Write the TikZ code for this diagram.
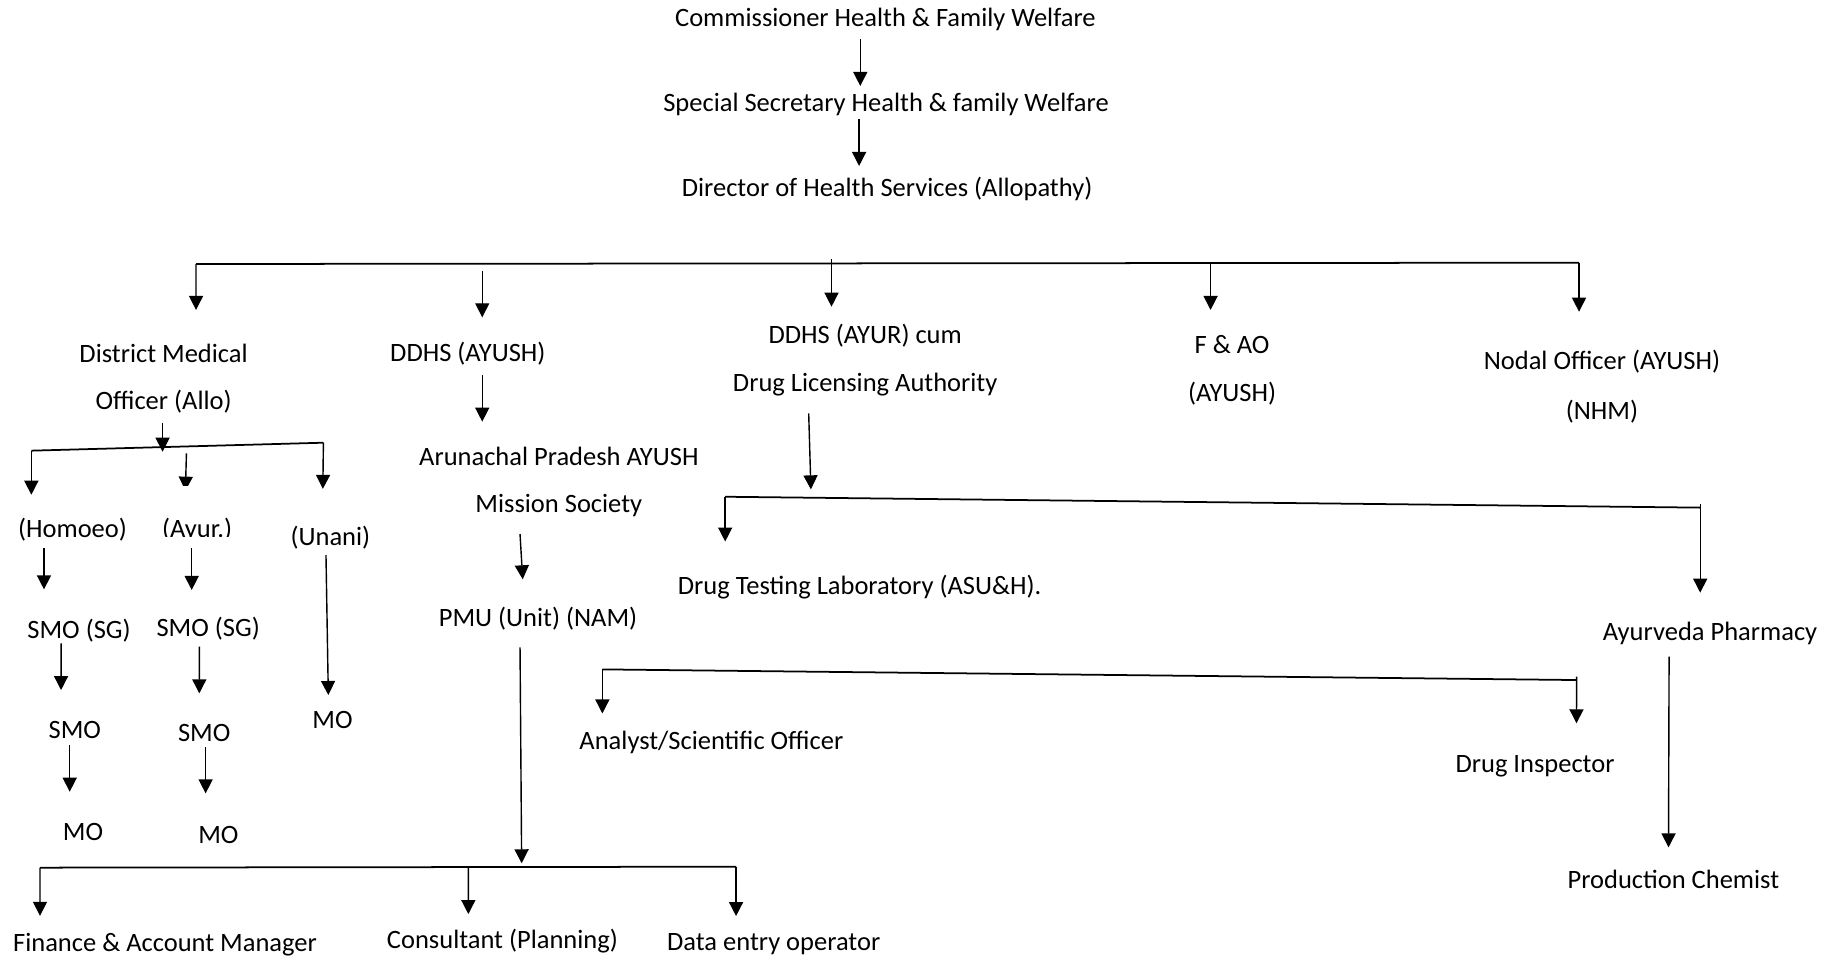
\documentclass[tikz,border=0pt]{standalone}
\usepackage{fontspec}
\setmainfont{Carlito}
\usetikzlibrary{arrows.meta,calc}
\tikzset{
  lbl/.style={inner sep=0pt, anchor=base, align=center, font=\fontsize{22.65}{41}\selectfont},
  arr/.style={line width=1.2pt, -{Triangle[width=12pt,length=12pt]}},
  bar/.style={line width=1.5pt}
}
\begin{document}
\begin{tikzpicture}[x=1pt,y=-1pt]
\useasboundingbox (0,0) rectangle (1568,819);
% ---- text nodes (multi-line nodes: base = baseline of last line)
\node[lbl] (comm) at (757,22.8) {Commissioner Health \& Family Welfare};
\node[lbl] (spec) at (757.5,95.5) {Special Secretary Health \& family Welfare};
\node[lbl] (dir) at (758.4,168.2) {Director of Health Services (Allopathy)};
\node[lbl] (dmo) at (139.9,350.5) {District Medical\\Officer (Allo)};
\node[lbl] (ddhsay) at (400,309) {DDHS (AYUSH)};
\node[lbl] (ayur) at (739.7,335) {DDHS (AYUR) cum\\Drug Licensing Authority};
\node[lbl] (fao) at (1053.4,343.4) {F \& AO\\(AYUSH)};
\node[lbl] (nodal) at (1369.6,359) {Nodal Officer (AYUSH)\\[1.7pt](NHM)};
\node[lbl] (homoeo) at (62,459.4) {(Homoeo)};
\begin{scope}
  \clip (120,420) rectangle (240,458.3);
  \node[lbl] (ayurv) at (168.5,459.4) {(Ayur.)};
\end{scope}
\node[lbl] (unani) at (282.5,466) {(Unani)};
\node[lbl] (smosg1) at (67.6,545.8) {SMO (SG)};
\node[lbl] (smosg2) at (178,544.3) {SMO (SG)};
\node[lbl] (smo1) at (64,631.3) {SMO};
\node[lbl] (smo2) at (174.6,633.6) {SMO};
\node[lbl] (moU) at (284.3,622.7) {MO};
\node[lbl] (mo1) at (71,719) {MO};
\node[lbl] (mo2) at (186.7,721) {MO};
\node[lbl] (arun) at (477.8,438.3) {Arunachal Pradesh AYUSH\\[-1.1pt]Mission Society};
\node[lbl] (pmu) at (460,535.8) {PMU (Unit) (NAM)};
\node[lbl] (fin) at (141.1,813.7) {Finance \& Account Manager};
\node[lbl] (cons) at (429.6,810.5) {Consultant (Planning)};
\node[lbl] (deo) at (661.5,812.5) {Data entry operator};
\node[lbl, anchor=base west] (dtl) at (579.4,508) {Drug Testing Laboratory (ASU\&H).};
\node[lbl] (anal) at (608.2,640.5) {Analyst/Scientific Officer};
\node[lbl] (dins) at (1312.4,660.8) {Drug Inspector};
\node[lbl] (pharm) at (1462,547.2) {Ayurveda Pharmacy};
\node[lbl] (prod) at (1430.7,759.5) {Production Chemist};
% ---- bar coordinates
\coordinate (b1L) at (167.6,225.7);
\coordinate (b1R) at (1350,224.6);
\coordinate (k2) at (412.3,231.4);
\coordinate (k3) at (710.9,221.7);
\coordinate (k4) at (1035,225);
\coordinate (k5) at (139,386.2);
\coordinate (b2L) at (26.8,385.3);
\coordinate (b2R) at (276.5,378.5);
\coordinate (k6) at (159.4,387.6);
\coordinate (k7) at (446,738.1);
\coordinate (b3L) at (34.2,741.8);
\coordinate (b3R) at (629.3,741);
\coordinate (k8) at (400.4,741.5);
\coordinate (k9) at (693.3,418.4);
\coordinate (b4L) at (620,424.7);
\coordinate (b4R) at (1453.6,434);
\coordinate (b5L) at (515,572.3);
\coordinate (b5R) at (1348,581.4);
% ---- bars
\draw[bar] (b1L) -- (b1R);
\draw[bar] (b2L) -- (b2R);
\draw[bar] (b3L) -- (b3R);
\draw[bar] (b4L) -- (b4R);
\draw[bar] (b5L) -- (b5R);
% ---- arrows
\draw[arr] ($(comm.base)+(-21.5,10.8)$) -- ($(spec.base)+(-22,-22)$);
\draw[arr] ($(spec.base)+(-23,6.2)$) -- ($(dir.base)+(-23.9,-26.3)$);
\draw[arr] (b1L) -- ($(dmo.base)+(27.7,-85.5)$);
\draw[arr] (b1R) -- ($(nodal.base)+(-19.6,-92.5)$);
\draw[arr] (k2) -- ($(ddhsay.base)+(12.3,-37.7)$);
\draw[arr] (k3) -- ($(ayur.base)+(-28.8,-72.8)$);
\draw[arr] (k4) -- ($(fao.base)+(-18.4,-78.4)$);
\draw[arr] ($(dmo.base)+(-0.9,10.9)$) -- (k5);
\draw[arr] (b2L) -- ($(homoeo.base)+(-35.2,-36.4)$);
\draw[arr] (b2R) -- ($(unani.base)+(-6.5,-48)$);
\begin{scope}
  \clip (140,370) rectangle (180,414.7);
  \draw[arr] (k6) -- ($(ayurv.base)+(-10,-39.9)$);
\end{scope}
\draw[arr] ($(homoeo.base)+(-24.4,9.4)$) -- ($(smosg1.base)+(-30,-41.9)$);
\draw[arr] ($(ayurv.base)+(-4.6,9.4)$) -- ($(smosg2.base)+(-14.1,-39.9)$);
\draw[arr] ($(unani.base)+(-3.8,8.5)$) -- ($(moU.base)+(-3.6,-28.5)$);
\draw[arr] ($(smosg1.base)+(-15.4,4.2)$) -- ($(smo1.base)+(-11.8,-41.3)$);
\draw[arr] ($(smosg2.base)+(-7.6,8.6)$) -- ($(smo2.base)+(-4.2,-40.8)$);
\draw[arr] ($(smo1.base)+(-4.4,5.7)$) -- ($(mo1.base)+(-11.4,-42.1)$);
\draw[arr] ($(smo2.base)+(1.2,5.4)$) -- ($(mo2.base)+(-10.9,-42.7)$);
\draw[arr] ($(ddhsay.base)+(12.3,11.6)$) -- ($(arun.base)+(-65.5,-77.8)$);
\draw[arr] ($(arun.base)+(-33.2,18.3)$) -- ($(pmu.base)+(-13.1,-40.5)$);
\draw[arr] ($(pmu.base)+(-15.4,17.7)$) -- (k7);
\draw[arr] (b3L) -- ($(fin.base)+(-106.9,-30.7)$);
\draw[arr] (b3R) -- ($(deo.base)+(-32.2,-29.3)$);
\draw[arr] (k8) -- ($(cons.base)+(-29.2,-29)$);
\draw[arr] ($(ayur.base)+(-48.3,18.4)$) -- (k9);
\draw[arr] (b4L) -- ($(dtl.base west)+(40.6,-45)$);
\draw[arr] ($(b4R)+(0,-3)$) -- ($(pharm.base)+(-8.4,-40.5)$);
\draw[arr] (b5L) -- ($(anal.base)+(-93.2,-30.5)$);
\draw[arr] ($(b5R)+(0,-3)$) -- ($(dins.base)+(35.4,-42.4)$);
\draw[arr] ($(pharm.base)+(-35,14.2)$) -- ($(prod.base)+(-4.2,-35)$);
\end{tikzpicture}
\end{document}
